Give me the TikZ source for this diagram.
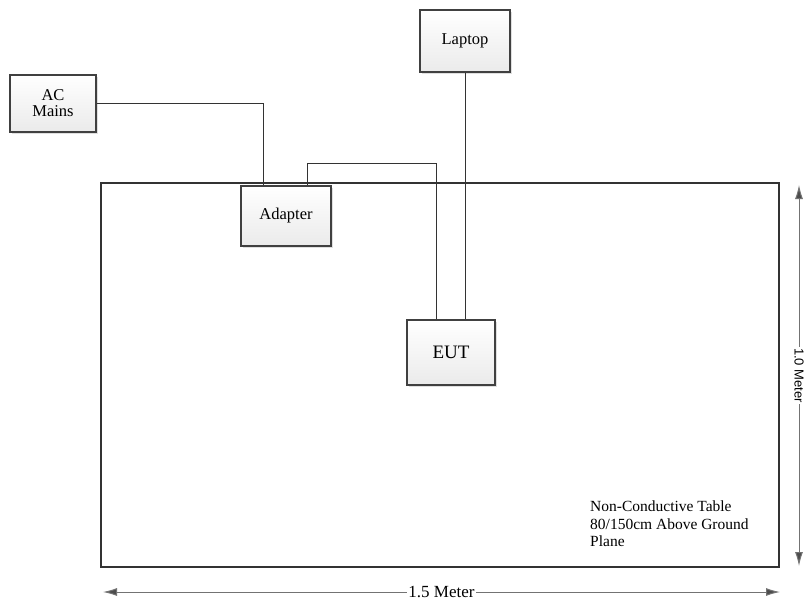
\documentclass[tikz,border=0pt]{standalone}
\usepackage{fontspec}
\setmainfont{Liberation Serif}
\newfontfamily\labelsans{Liberation Sans}
\usetikzlibrary{shapes,arrows,arrows.meta,shadows}
\tikzstyle{block} = [rectangle, draw=black!75, line width=1.4pt, top color=white, bottom color=black!8,
    drop shadow={opacity=0.25, shadow xshift=1.5pt, shadow yshift=-1.5pt},
    text centered, align=center, inner sep=0pt, font=\fontsize{16.5}{18}\selectfont]
\tikzstyle{table} = [draw=black!80, line width=2pt]
\tikzstyle{line} = [draw=black!80, line width=1pt]
\tikzstyle{dimension} = [draw=black!55, line width=1pt, {Latex[length=14pt, width=8pt, fill=black!70]}-{Latex[length=14pt, width=8pt, fill=black!70]}]

\begin{document}
\begin{tikzpicture}[x=1pt, y=-1pt]
			\useasboundingbox (0,0) rectangle (807,605);
			% Place nodes
			\draw [table] (101,183) rectangle (779,567);
			\node [block, minimum width=86pt, minimum height=57pt] (acMains) at (53,103.5) {AC\\[-2pt]Mains};
			\node [block, minimum width=90pt, minimum height=62pt] (laptop) at (465,41) {Laptop};
			\node [block, minimum width=90pt, minimum height=60pt] (adapter) at (286,216) {Adapter};
			\node [block, minimum width=88pt, minimum height=65pt, font=\fontsize{19}{21}\selectfont] (eut) at (451,352.5) {EUT};
			\node [align=left, anchor=north west, inner sep=0pt, font=\fontsize{15.5}{17.5}\selectfont] (tableNote) at (590,501)
				{Non-Conductive Table\\80/150cm Above Ground\\Plane};
			% Cables
			\path [line] (acMains.east |- 0,103) -| (adapter.north -| 263,0);
			\path [line] (adapter.north -| 307,0) |- (436,163) -- (eut.north -| 436,0);
			\path [line] (laptop.south) -- (eut.north -| 465,0);
			% Dimensions
			\coordinate (widthLeft) at (103,592);
			\coordinate (widthRight) at (780,592);
			\coordinate (heightTop) at (799,185);
			\coordinate (heightBottom) at (799,566);
			\path [dimension] (widthLeft) -- node [fill=white, inner sep=1pt, font=\fontsize{17}{19}\selectfont] (widthLabel) {1.5 Meter} (widthRight);
			\path [dimension] (heightTop) -- node [fill=white, inner sep=1pt, rotate=-90, font=\labelsans\fontsize{13}{15}\selectfont] (heightLabel) {1.0 Meter} (heightBottom);
	\end{tikzpicture}
\end{document}
